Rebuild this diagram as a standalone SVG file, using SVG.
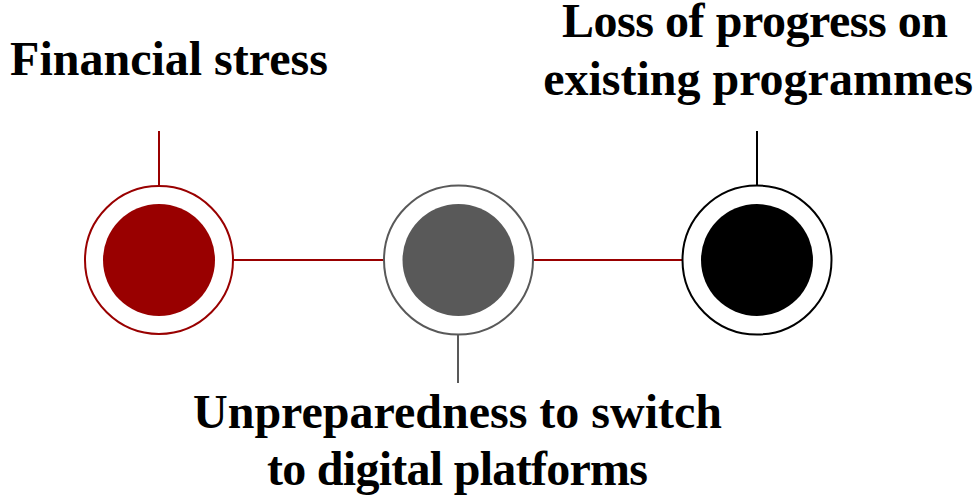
<svg xmlns="http://www.w3.org/2000/svg" width="975" height="495" viewBox="0 0 975 495">
  <style>
    .label { font-family: "Liberation Serif", "Times New Roman", serif; font-weight: bold; font-size: 48px; fill: #000; text-anchor: middle; }
    .ring { fill: #fff; stroke-width: 2; }
    .link { stroke: #990000; stroke-width: 2; fill: none; }
  </style>
  <rect width="975" height="495" fill="#fff"/>
  <g id="connectors">
    <line class="link" x1="233" y1="260" x2="384" y2="260"/>
    <line class="link" x1="533" y1="260" x2="683" y2="260"/>
  </g>
  <g id="node-financial">
    <line x1="159" y1="131" x2="159" y2="205" stroke="#990000" stroke-width="2"/>
    <circle class="ring" cx="159" cy="260" r="74" stroke="#990000"/>
    <circle cx="159" cy="260" r="56" fill="#990000"/>
    <text class="label" x="169" y="75">Financial stress</text>
  </g>
  <g id="node-digital">
    <line x1="458" y1="315" x2="458" y2="383" stroke="#595959" stroke-width="2"/>
    <circle class="ring" cx="458.5" cy="260" r="74.5" stroke="#595959"/>
    <circle cx="458.5" cy="260" r="56" fill="#595959"/>
    <text class="label" x="457.5" y="428">Unpreparedness to switch</text>
    <text class="label" x="457.5" y="485" textLength="381" lengthAdjust="spacing">to digital platforms</text>
  </g>
  <g id="node-progress">
    <line x1="757" y1="131" x2="757" y2="205" stroke="#000" stroke-width="2"/>
    <circle class="ring" cx="757" cy="260" r="74.5" stroke="#000"/>
    <circle cx="757" cy="260" r="56" fill="#000"/>
    <text class="label" x="755" y="37" textLength="386" lengthAdjust="spacing">Loss of progress on</text>
    <text class="label" x="758" y="95">existing programmes</text>
  </g>
</svg>
